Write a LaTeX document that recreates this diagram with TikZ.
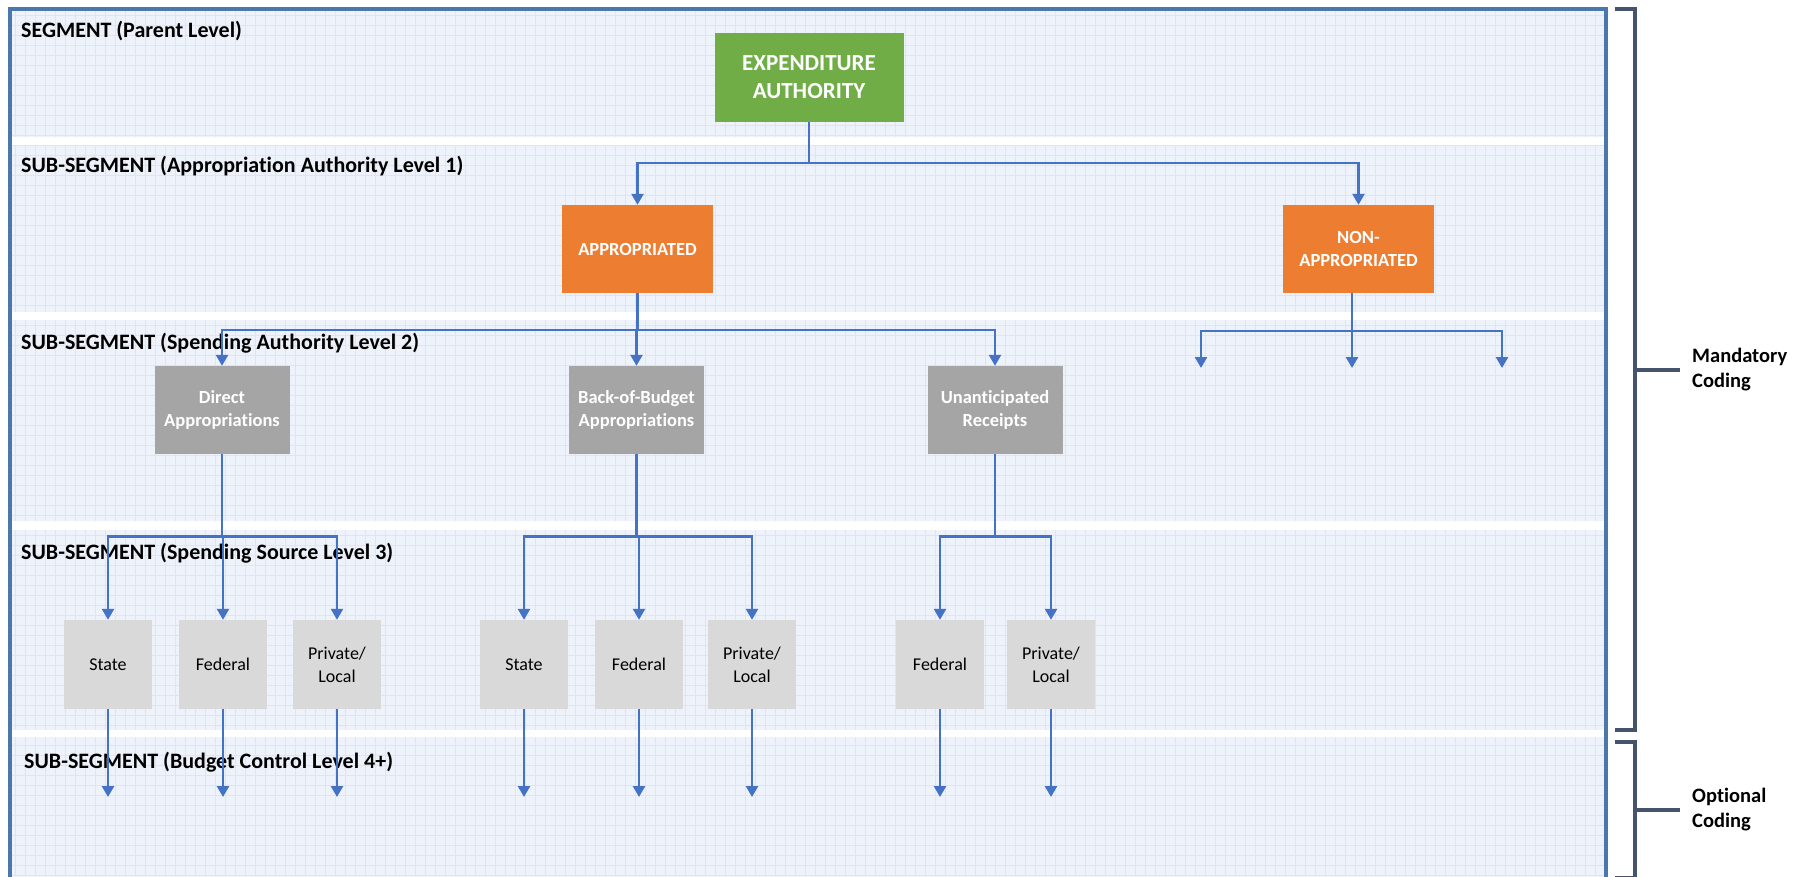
\documentclass[tikz,border=0pt]{standalone}
\usepackage{fontspec}
\setmainfont{Carlito}[Ligatures=NoCommon]
\usetikzlibrary{arrows.meta,calc}

\definecolor{bandfill}{HTML}{EEF2FA}
\definecolor{gridcol}{HTML}{DDE5F4}
\definecolor{framecol}{HTML}{4A78AA}
\definecolor{linkblue}{HTML}{4472C4}
\definecolor{bracketcol}{HTML}{44546A}
\definecolor{topgreen}{HTML}{70AD47}
\definecolor{midorange}{HTML}{ED7D31}
\definecolor{darkgrey}{HTML}{A5A5A5}
\definecolor{lightgrey}{HTML}{D9D9D9}

\begin{document}
\begin{tikzpicture}[x=1pt,y=-1pt,
  conn/.style={draw=linkblue, line width=2.5pt, -{Triangle[width=12pt,length=11pt]}},
  gridln/.style={draw=gridcol, line width=0.6pt},
  frameln/.style={draw=framecol, line width=4pt},
  brk/.style={draw=bracketcol, line width=3.5pt},
  bandlabel/.style={anchor=west, inner sep=0pt, font=\bfseries\fontsize{22}{26}\selectfont},
  sidelabel/.style={anchor=west, inner sep=0pt, align=left, font=\bfseries\fontsize{20.5}{25}\selectfont},
  rootbox/.style={fill=topgreen, text=white, inner sep=0pt, align=center,
    minimum width=189pt, minimum height=89pt, font=\bfseries\fontsize{23}{28}\selectfont},
  authbox/.style={fill=midorange, text=white, inner sep=0pt, align=center,
    minimum width=151pt, minimum height=88pt, font=\bfseries\fontsize{18.5}{23}\selectfont},
  spendbox/.style={fill=darkgrey, text=white, inner sep=0pt, align=center,
    minimum width=135pt, minimum height=88pt, font=\bfseries\fontsize{18.5}{23}\selectfont},
  srcbox/.style={fill=lightgrey, text=black, inner sep=0pt, align=center,
    minimum width=88pt, minimum height=89pt, font=\fontsize{18}{23}\selectfont}
]
\useasboundingbox (0,0) rectangle (1807,876);
\clip (0,0) rectangle (1807,876);

% level bands with a fine grid texture
\fill[bandfill] (10,9) rectangle (1606,880);
\foreach \x in {15,25,...,1605} \draw[gridln] (\x,11) -- (\x,876);
\foreach \y in {15,25,...,875} \draw[gridln] (12,\y) -- (1604,\y);
% white separators between the bands
\fill[white] (12,137) rectangle (1604,145);
\fill[white] (12,312) rectangle (1604,320);
\fill[white] (12,521) rectangle (1604,530);
\fill[white] (12,730) rectangle (1604,737);
% outer frame (open at the bottom)
\draw[frameln] (10,880) -- (10,9) -- (1606,9) -- (1606,880);

% band titles
\node[bandlabel] (lab1) at (21,31) {SEGMENT (Parent Level)};
\node[bandlabel] (lab2) at (21,166) {SUB-SEGMENT (Appropriation Authority Level 1)};
\node[bandlabel] (lab3) at (21,343) {SUB-SEGMENT (Spending Authority Level 2)};
\node[bandlabel] (lab4) at (21,553) {SUB-SEGMENT (Spending Source Level 3)};
\node[bandlabel] (lab5) at (24,762) {SUB-SEGMENT (Budget Control Level 4+)};

% hierarchy boxes
\node[rootbox] (ea) at (809,77.5) {EXPENDITURE\\AUTHORITY};
\node[authbox] (app) at (637.5,249) {APPROPRIATED};
\node[authbox] (nap) at (1358.5,249) {NON-\\APPROPRIATED};

\node[spendbox] (da) at (222,410) {Direct\\Appropriations};
\node[spendbox] (bob) at (636.5,410) {Back-of-Budget\\Appropriations};
\node[spendbox] (ur) at (995,410) {Unanticipated\\Receipts};

\node[srcbox] (s1) at (108,664.5) {State};
\node[srcbox] (f1) at (223,664.5) {Federal};
\node[srcbox] (p1) at (337,664.5) {Private/\\Local};
\node[srcbox] (s2) at (524,664.5) {State};
\node[srcbox] (f2) at (639,664.5) {Federal};
\node[srcbox] (p2) at (752,664.5) {Private/\\Local};
\node[srcbox] (f3) at (940,664.5) {Federal};
\node[srcbox] (p3) at (1051,664.5) {Private/\\Local};

% bus heights and open arrow ends
\coordinate (bus1) at (0,163);
\coordinate (bus2) at (0,330);
\coordinate (bus3) at (0,536.5);
\coordinate (napbus) at (0,331);
\coordinate (napl) at (1201,368);
\coordinate (napm) at (1352,368);
\coordinate (napr) at (1502,368);
\coordinate (low) at (0,797);

% connectors
\foreach \c in {app,nap}
  \draw[conn] (ea.south) -- (ea.south |- bus1) -| (\c.north);
\foreach \c in {da,bob,ur}
  \draw[conn] (app.south) -- (app.south |- bus2) -| (\c.north);
\coordinate (napdrop) at ([xshift=-6.5pt]nap.south);
\foreach \c in {napl,napm,napr}
  \draw[conn] (napdrop) -- (napdrop |- napbus) -| (\c);
\foreach \c in {s1,f1,p1}
  \draw[conn] (da.south) -- (da.south |- bus3) -| (\c.north);
\foreach \c in {s2,f2,p2}
  \draw[conn] (bob.south) -- (bob.south |- bus3) -| (\c.north);
\foreach \c in {f3,p3}
  \draw[conn] (ur.south) -- (ur.south |- bus3) -| (\c.north);
\foreach \c in {s1,f1,p1,s2,f2,p2,f3,p3}
  \draw[conn] (\c.south) -- (\c.south |- low);

% coding brackets
\draw[brk] (1615,9) -- (1635,9) -- (1635,730) -- (1615,730);
\draw[brk] (1635,370) -- (1680,370);
\node[sidelabel] (mand) at (1692,370) {Mandatory\\Coding};
\draw[brk] (1615,742) -- (1635,742) -- (1635,877.5) -- (1615,877.5);
\draw[brk] (1635,810) -- (1680,810);
\node[sidelabel] (opt) at (1692,810) {Optional\\Coding};
\end{tikzpicture}
\end{document}
